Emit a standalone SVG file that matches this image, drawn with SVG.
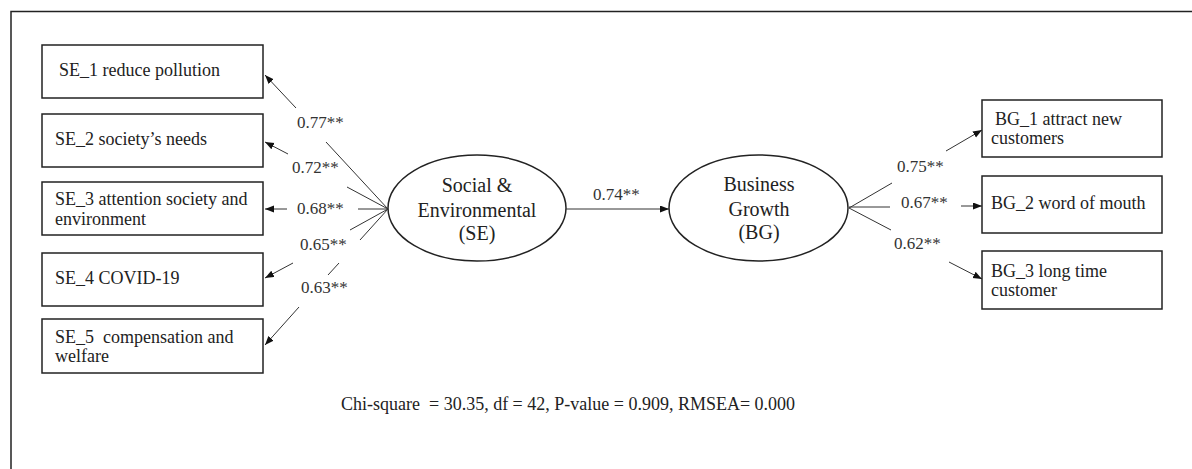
<svg xmlns="http://www.w3.org/2000/svg" width="1192" height="469" viewBox="0 0 1192 469">
<style>
.box{fill:#fff;stroke:#222;stroke-width:1.5}
.ell{fill:#fff;stroke:#222;stroke-width:1.5}
.t{font-family:"Liberation Serif","Times New Roman",serif;font-size:18px;fill:#222;white-space:pre}
.et{font-family:"Liberation Serif","Times New Roman",serif;font-size:20px;fill:#222;text-anchor:middle}
.lb{font-family:"Liberation Serif","Times New Roman",serif;font-size:17px;fill:#333}
.ln{stroke:#333;stroke-width:1;fill:none}
</style>
<defs>
<marker id="ah" markerUnits="userSpaceOnUse" markerWidth="10" markerHeight="8" refX="9" refY="3.5" orient="auto">
<path d="M0,0 L9,3.5 L0,7 z" fill="#111"/>
</marker>
</defs>
<rect width="1192" height="469" fill="#fff"/>
<path d="M11,469 V11.5 H1192" fill="none" stroke="#222" stroke-width="1.5"/>

<g id="SE1"><rect class="box" x="42" y="45" width="221" height="53"/><text class="t" x="59" y="76">SE_1 reduce pollution</text></g>
<g id="SE2"><rect class="box" x="42" y="114" width="221" height="53"/><text class="t" x="55" y="145">SE_2 society’s needs</text></g>
<g id="SE3"><rect class="box" x="42" y="182" width="221" height="53"/><text class="t" x="55" y="205">SE_3 attention society and</text><text class="t" x="55" y="225">environment</text></g>
<g id="SE4"><rect class="box" x="42" y="253" width="221" height="53"/><text class="t" x="55" y="284">SE_4 COVID-19</text></g>
<g id="SE5"><rect class="box" x="42" y="319" width="221" height="54"/><text class="t" x="55" y="343">SE_5  compensation and</text><text class="t" x="55" y="362">welfare</text></g>

<g id="SEnode"><ellipse class="ell" cx="477" cy="208" rx="89" ry="53"/><text class="et" x="477" y="192">Social &amp;</text><text class="et" x="477" y="217">Environmental</text><text class="et" x="477" y="240">(SE)</text></g>
<g id="BGnode"><ellipse class="ell" cx="758.5" cy="208" rx="89.5" ry="53"/><text class="et" x="759" y="191">Business</text><text class="et" x="759" y="216">Growth</text><text class="et" x="759" y="239">(BG)</text></g>

<g id="BG1"><rect class="box" x="982" y="100" width="180" height="57"/><text class="t" x="995" y="125">BG_1 attract new</text><text class="t" x="991" y="144">customers</text></g>
<g id="BG2"><rect class="box" x="982" y="176" width="180" height="57"/><text class="t" x="991" y="209">BG_2 word of mouth</text></g>
<g id="BG3"><rect class="box" x="982" y="251" width="180" height="58"/><text class="t" x="991" y="277">BG_3 long time</text><text class="t" x="991" y="296">customer</text></g>

<g id="connectors">
<line class="ln" x1="388" y1="209" x2="326" y2="142"/><line class="ln" x1="296" y1="108" x2="265" y2="75" marker-end="url(#ah)"/>
<line class="ln" x1="388" y1="209" x2="347" y2="187"/><line class="ln" x1="288" y1="154" x2="265" y2="142" marker-end="url(#ah)"/>
<line class="ln" x1="388" y1="209" x2="358" y2="209"/><line class="ln" x1="287" y1="209" x2="265" y2="209" marker-end="url(#ah)"/>
<line class="ln" x1="388" y1="209" x2="350" y2="230"/><line class="ln" x1="293" y1="263" x2="265" y2="278" marker-end="url(#ah)"/>
<line class="ln" x1="388" y1="209" x2="360" y2="240"/><line class="ln" x1="339" y1="263" x2="328" y2="275"/><line class="ln" x1="299" y1="307" x2="265" y2="345" marker-end="url(#ah)"/>
<line class="ln" x1="566" y1="209" x2="669" y2="209" marker-end="url(#ah)"/>
<line class="ln" x1="849" y1="208" x2="892" y2="183"/><line class="ln" x1="946" y1="151" x2="982" y2="130" marker-end="url(#ah)"/>
<line class="ln" x1="849" y1="207" x2="890" y2="207"/><line class="ln" x1="961" y1="206" x2="982" y2="206" marker-end="url(#ah)"/>
<line class="ln" x1="849" y1="208" x2="891" y2="230"/><line class="ln" x1="949" y1="262" x2="982" y2="279" marker-end="url(#ah)"/>
<text class="lb" x="297" y="128">0.77**</text>
<text class="lb" x="292" y="173">0.72**</text>
<text class="lb" x="297" y="214">0.68**</text>
<text class="lb" x="300" y="250">0.65**</text>
<text class="lb" x="301" y="293">0.63**</text>
<text class="lb" x="593" y="200">0.74**</text>
<text class="lb" x="897" y="172">0.75**</text>
<text class="lb" x="901" y="208">0.67**</text>
<text class="lb" x="894" y="249">0.62**</text>
</g>

<text class="t" x="341" y="410">Chi-square  = 30.35, df = 42, P-value = 0.909, RMSEA= 0.000</text>
</svg>
